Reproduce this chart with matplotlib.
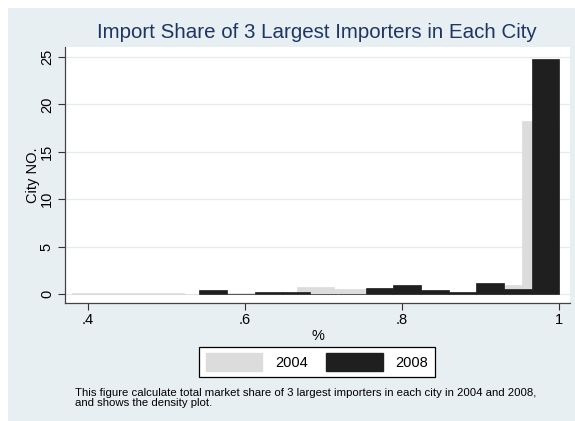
import numpy as np
import matplotlib.pyplot as plt
from matplotlib.patches import Patch, Rectangle

plt.rcParams['font.family'] = ['Liberation Sans', 'DejaVu Sans']

# Histogram bins (density)
gray_start = 0.379
gray_width = 0.0478
dens_2004 = [0.15, 0.15, 0.15, 0.0, 0.15, 0.15, 0.7, 0.5, 0.3, 0.2, 0.1, 1.0, 18.2]

black_start = 0.5417
black_width = 0.0353
dens_2008 = [0.42, 0.0, 0.25, 0.25, 0.0, 0.0, 0.6, 0.95, 0.45, 0.25, 1.2, 0.55, 24.8]

xticks = [0.4, 0.6, 0.8, 1.0]
xtick_labels = ['.4', '.6', '.8', '1']
yticks = [0, 5, 10, 15, 20, 25]

bg = '#E8EFF2'
fig = plt.figure(figsize=(5.75, 4.21), dpi=100)
fig.patch.set_facecolor('white')
fig.patches.append(Rectangle((8 / 575, 0), 1, 1 - 8 / 421, transform=fig.transFigure,
                             facecolor=bg, edgecolor='none', zorder=-10))

ax = fig.add_axes([65 / 575, 1 - 303 / 421, (570 - 65) / 575, (303 - 47) / 421])
ax.set_facecolor('white')

left_2004 = gray_start + gray_width * np.arange(len(dens_2004))
left_2008 = black_start + black_width * np.arange(len(dens_2008))
ax.bar(left_2004, dens_2004, width=gray_width, align='edge',
       color='#DCDCDC', edgecolor='#DCDCDC', linewidth=0.5, zorder=2)
ax.bar(left_2008, dens_2008, width=black_width, align='edge',
       color='#1F1F1F', edgecolor='#1F1F1F', linewidth=0.5, zorder=3)

ax.set_xlim(0.3707, 1.014)
ax.set_ylim(-0.95, 26.05)
ax.set_xticks(xticks)
ax.set_xticklabels(xtick_labels)
ax.set_yticks(yticks)
ax.tick_params(axis='y', labelrotation=90, length=5, color='#333333', labelsize=10.5, pad=3)
ax.tick_params(axis='x', length=5, color='#333333', labelsize=10.5, pad=2)
for lab in ax.get_yticklabels():
    lab.set_va('center')
ax.yaxis.grid(True, color='#E3EBEE', linewidth=0.9, zorder=0)
ax.set_axisbelow(True)

for s in ['top', 'right']:
    ax.spines[s].set_visible(False)
for s in ['left', 'bottom']:
    ax.spines[s].set_color('#444444')
    ax.spines[s].set_linewidth(0.9)

ax.set_xlabel('%', fontsize=10.5, labelpad=2)
ax.set_ylabel('City NO.', fontsize=10.5, labelpad=0)

fig.text(317 / 575, 1 - 33 / 421, 'Import Share of 3 Largest Importers in Each City',
         ha='center', va='center', fontsize=14.8, color='#1E3566')

handles = [Patch(facecolor='#DCDCDC', edgecolor='#DCDCDC', label='2004'),
           Patch(facecolor='#1F1F1F', edgecolor='#1F1F1F', label='2008')]
leg = fig.legend(handles=handles, loc='center', ncol=2,
                 bbox_to_anchor=(317 / 575, 1 - 362 / 421), fontsize=10.5,
                 frameon=True, fancybox=False, edgecolor='black', facecolor='white',
                 framealpha=1, handlelength=3.9, handleheight=1.45, columnspacing=1.2,
                 handletextpad=0.9, borderpad=0.45, borderaxespad=0)
leg.get_frame().set_linewidth(0.9)

fig.text(75 / 575, 1 - 398 / 421,
         'This figure calculate total market share of 3 largest importers in each city in 2004 and 2008,\n'
         'and shows the density plot.',
         ha='left', va='center', fontsize=8.2, linespacing=0.95)

fig.savefig('out.png', dpi=100, facecolor=fig.get_facecolor())
